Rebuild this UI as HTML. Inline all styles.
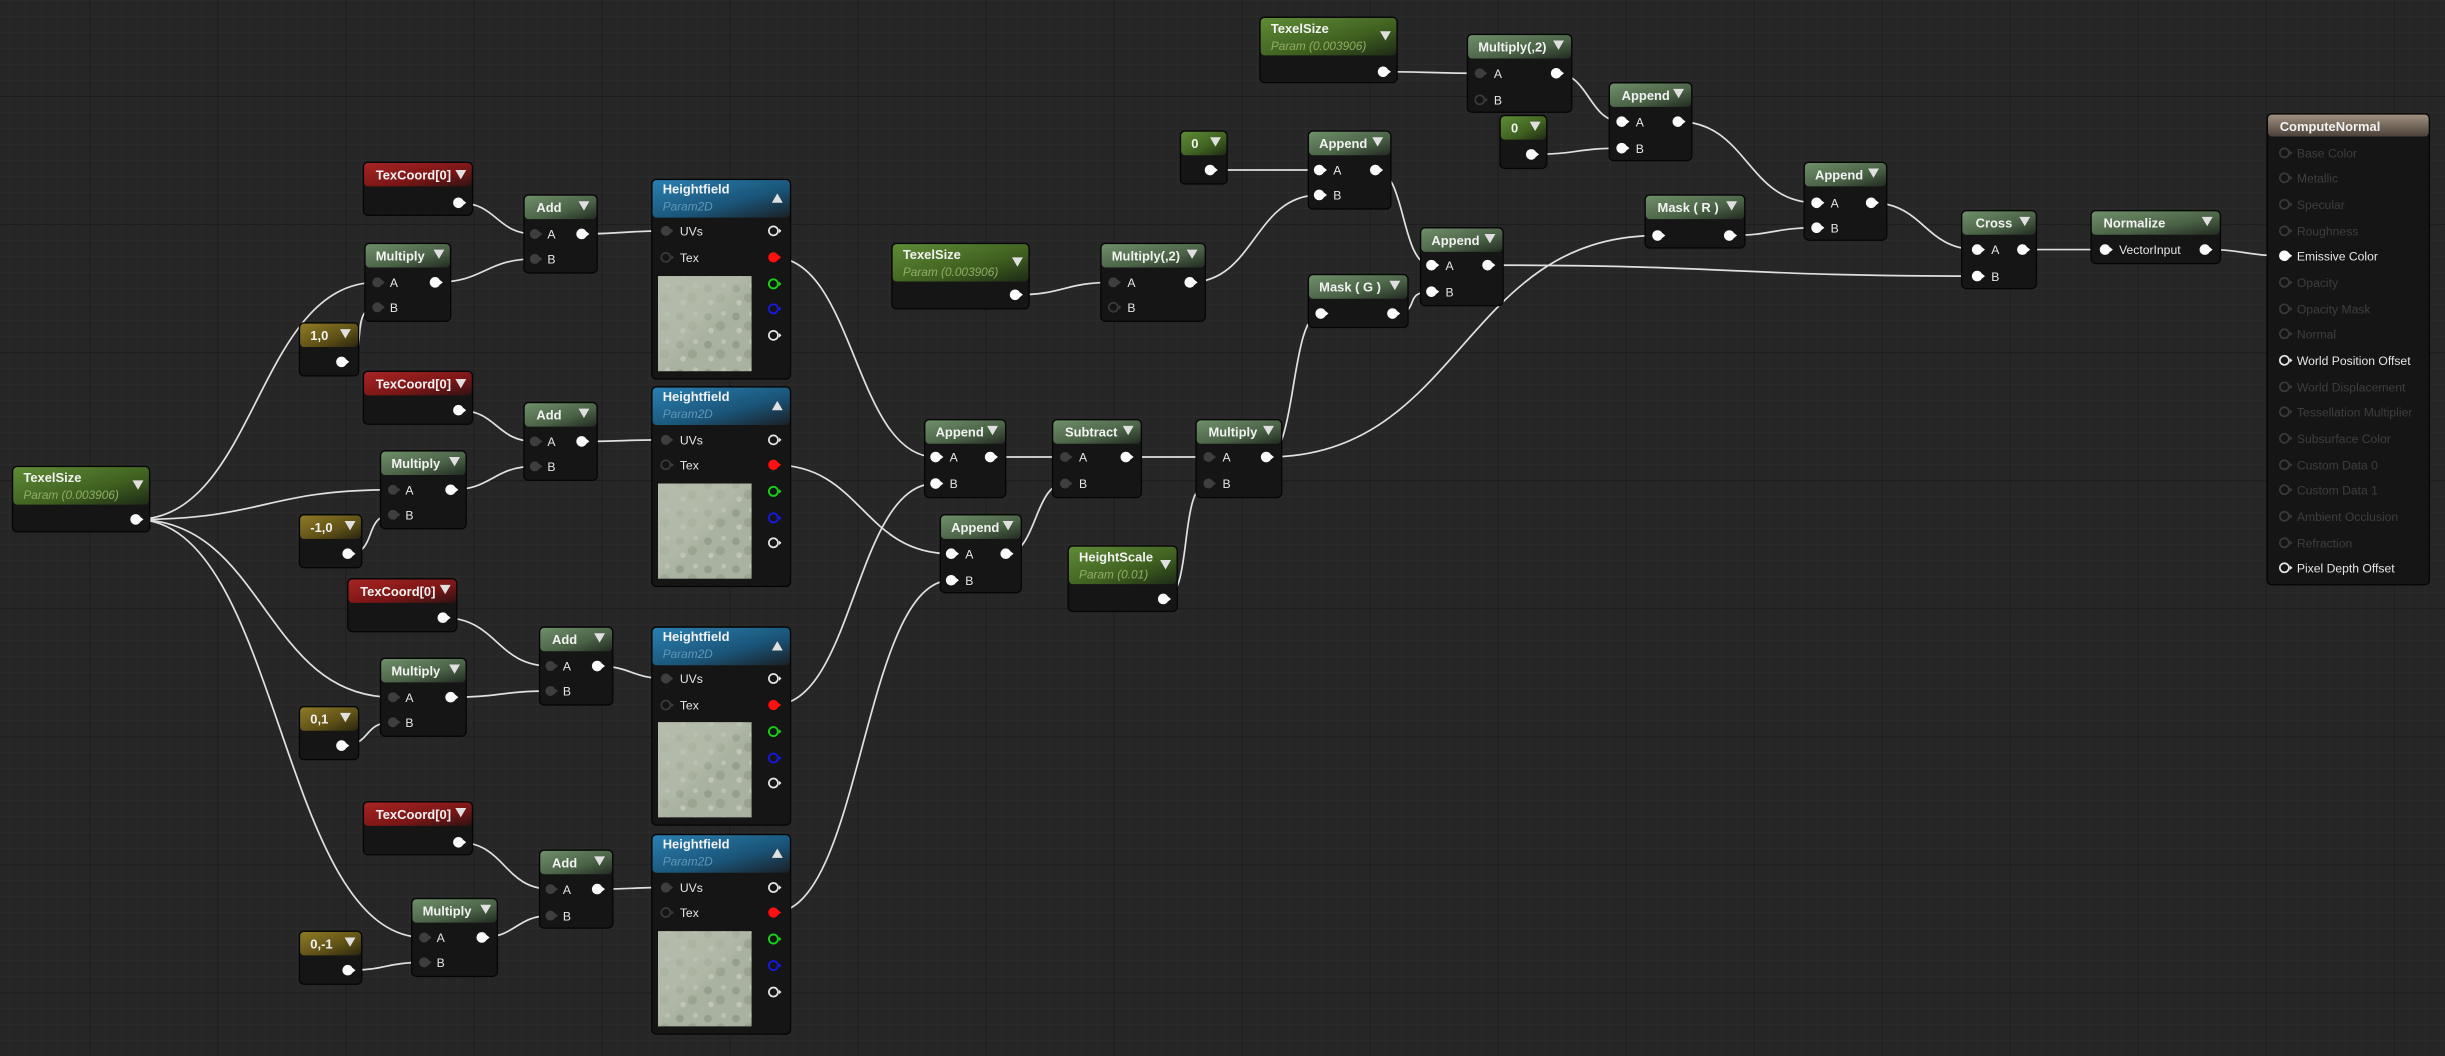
<!DOCTYPE html>
<html><head><meta charset="utf-8"><style>
html,body{margin:0;padding:0;background:#262626;overflow:hidden}
svg{display:block}
text{font-family:"Liberation Sans","DejaVu Sans",sans-serif}
.t{font-size:8.3px;font-weight:bold;fill:#f2f2f2}
.s{font-size:7.6px;font-style:italic}
.l{font-size:7.8px;fill:#e6e6e6}
.d{font-size:7.8px;fill:#3e3e3e}
.w{fill:none;stroke:#e0e0e0;stroke-width:1.1}
.b{fill:#141514;stroke:#050505;stroke-width:0.8}
</style></head><body>
<svg width="2445" height="1056" viewBox="0 0 1568 677" preserveAspectRatio="none" xmlns="http://www.w3.org/2000/svg">
<defs>
<pattern id="mi" width="10.26" height="10.26" patternUnits="userSpaceOnUse" x="57.3" y="61.6">
<path d="M0 0H10.26M0 0V10.26" stroke="#303030" stroke-width="0.5" fill="none"/></pattern>
<pattern id="ma" width="82.1" height="82.1" patternUnits="userSpaceOnUse" x="57.3" y="61.6">
<path d="M0 0H82.1M0 0V82.1" stroke="#171717" stroke-width="0.9" fill="none"/></pattern>
<linearGradient id="gP" x1="0" y1="0" x2="1" y2="1"><stop offset="0" stop-color="#5f8c36"/><stop offset="0.6" stop-color="#3f6020"/><stop offset="1" stop-color="#1e2a16"/></linearGradient>
<linearGradient id="gO" x1="0" y1="0" x2="1" y2="1"><stop offset="0" stop-color="#6f8f6a"/><stop offset="0.6" stop-color="#4a6246"/><stop offset="1" stop-color="#232b22"/></linearGradient>
<linearGradient id="gR" x1="0" y1="0" x2="1" y2="1"><stop offset="0" stop-color="#a82424"/><stop offset="0.6" stop-color="#7a1616"/><stop offset="1" stop-color="#301212"/></linearGradient>
<linearGradient id="gY" x1="0" y1="0" x2="1" y2="1"><stop offset="0" stop-color="#8f7b26"/><stop offset="0.6" stop-color="#5e5016"/><stop offset="1" stop-color="#2a2610"/></linearGradient>
<linearGradient id="gB" x1="0" y1="0" x2="1" y2="1"><stop offset="0" stop-color="#2a80b2"/><stop offset="0.6" stop-color="#1a5478"/><stop offset="1" stop-color="#1a2026"/></linearGradient>
<linearGradient id="gC" x1="0" y1="0" x2="0" y2="1"><stop offset="0" stop-color="#a09080"/><stop offset="1" stop-color="#4a4038"/></linearGradient>
<pattern id="tx" width="18" height="18" patternUnits="userSpaceOnUse">
<rect width="18" height="18" fill="#a9b1a0"/>
<circle cx="4" cy="5" r="2.5" fill="#959e8c"/><circle cx="12" cy="11" r="3" fill="#9aa390"/><circle cx="6" cy="14" r="1.8" fill="#c0c6b6"/><circle cx="14" cy="3" r="1.6" fill="#bcc3b2"/></pattern>
<linearGradient id="tg" x1="0" y1="0" x2="1" y2="1"><stop offset="0" stop-color="#b8bfae" stop-opacity="0.8"/><stop offset="0.45" stop-color="#b8bfae" stop-opacity="0.5"/><stop offset="0.55" stop-color="#b8bfae" stop-opacity="0"/></linearGradient>
<g id="pi"><circle r="3.2" fill="#3d3e3d"/><path d="M3 -1.5L4.8 0L3 1.5Z" fill="#3d3e3d"/></g>
<g id="po"><circle r="3.4" fill="#fafafa"/><path d="M3 -1.6L5 0L3 1.6Z" fill="#fafafa"/></g>
<g id="pe"><circle r="2.9" fill="none" stroke="#e6e6e6" stroke-width="1.1"/><path d="M3.5 -1.5L5.2 0L3.5 1.5Z" fill="#e6e6e6"/></g>
<g id="pd"><circle r="2.9" fill="none" stroke="#3a3a3a" stroke-width="1.1"/><path d="M3.5 -1.5L5.2 0L3.5 1.5Z" fill="#3a3a3a"/></g>
<g id="pr"><circle r="3.3" fill="#ff1010"/><path d="M3 -1.5L5 0L3 1.5Z" fill="#ff1010"/></g>
<g id="pg"><circle r="2.9" fill="none" stroke="#18d018" stroke-width="1.2"/><path d="M3.5 -1.5L5.2 0L3.5 1.5Z" fill="#18d018"/></g>
<g id="pb"><circle r="2.9" fill="none" stroke="#1818e0" stroke-width="1.2"/><path d="M3.5 -1.5L5.2 0L3.5 1.5Z" fill="#1818e0"/></g>
<path id="dn" d="M0 0H7L3.5 6Z" fill="#e0e0e0"/>
<path id="up" d="M0 6H7L3.5 0Z" fill="#e0e0e0"/>
</defs>
<rect width="1568" height="677" fill="#262626"/>
<rect width="1568" height="677" fill="url(#mi)"/>
<rect width="1568" height="677" fill="url(#ma)"/>

<!-- wires -->
<g class="w">
<path d="M87 333C165 333 164 181 242 181"/>
<path d="M87 333C170 333 169 314 252 314"/>
<path d="M87 333C170 333 169 447 252 447"/>
<path d="M87 333C180 333 179 601 272 601"/>
<path d="M219 232C239 232 222 197 242 197"/>
<path d="M223 355C243 355 232 330 252 330"/>
<path d="M219 478C239 478 232 463 252 463"/>
<path d="M223 622C248 622 247 617 272 617"/>
<path d="M294 130C319 130 318 150 343 150"/>
<path d="M279 181C311 181 311 166 343 166"/>
<path d="M294 263C319 263 318 283 343 283"/>
<path d="M289 314C316 314 316 299 343 299"/>
<path d="M284 396C319 396 318 427 353 427"/>
<path d="M289 447C321 447 321 443 353 443"/>
<path d="M294 540C324 540 323 570 353 570"/>
<path d="M309 601C331 601 331 587 353 587"/>
<path d="M373 150C400 150 400 148 427 148"/>
<path d="M373 283C400 283 400 282 427 282"/>
<path d="M383 427C405 427 405 435 427 435"/>
<path d="M383 570C405 570 405 569 427 569"/>
<path d="M496 165C548 165 548 293 600 293"/>
<path d="M496 298C553 298 553 355 610 355"/>
<path d="M496 452C548 452 548 310 600 310"/>
<path d="M496 585C553 585 553 372 610 372"/>
<path d="M635 293H683"/>
<path d="M645 355C665 355 663 310 683 310"/>
<path d="M722 293H775"/>
<path d="M746 384C766 384 755 310 775 310"/>
<path d="M812 293C832 293 827 201 847 201"/>
<path d="M812 293C938 293 937 151 1063 151"/>
<path d="M651 189C683 189 682 181 714 181"/>
<path d="M763 181C805 181 804 125 846 125"/>
<path d="M776 109H846"/>
<path d="M882 109C902 109 898 170 918 170"/>
<path d="M893 201C913 201 898 187 918 187"/>
<path d="M954 170C1111 170 1111 177 1268 177"/>
<path d="M887 46C918 46 918 47 949 47"/>
<path d="M998 47C1019 47 1019 78 1040 78"/>
<path d="M982 99C1011 99 1011 95 1040 95"/>
<path d="M1076 78C1121 78 1120 130 1165 130"/>
<path d="M1109 151C1137 151 1137 146 1165 146"/>
<path d="M1200 130C1234 130 1234 160 1268 160"/>
<path d="M1297 160H1350"/>
<path d="M1414 160C1440 160 1440 164 1465 164"/>
</g>

<!-- Left TexelSize -->
<g><rect class="b" x="8" y="299" width="88" height="42" rx="3"/><rect x="8.5" y="299.5" width="87" height="24" rx="2.5" fill="url(#gP)"/>
<text class="t" x="15" y="309">TexelSize</text><text class="s" x="15" y="320" fill="#8fae62">Param (0.003906)</text><use href="#dn" x="85" y="308"/><use href="#po" x="87" y="333"/></g>

<!-- Row 1 -->
<g><rect class="b" x="233" y="104" width="70" height="34" rx="3"/><rect x="233.5" y="104.5" width="69" height="15" rx="2.5" fill="url(#gR)"/>
<text class="t" x="241" y="115">TexCoord[0]</text><use href="#dn" x="292" y="109"/><use href="#po" x="294" y="130"/></g>
<g><rect class="b" x="234" y="156" width="55" height="50" rx="3"/><rect x="234.5" y="156.5" width="54" height="15" rx="2.5" fill="url(#gO)"/>
<text class="t" x="241" y="167">Multiply</text><use href="#dn" x="278" y="160"/><use href="#pi" x="242" y="181"/><text class="l" x="250" y="184">A</text><use href="#pi" x="242" y="197"/><text class="l" x="250" y="200">B</text><use href="#po" x="279" y="181"/></g>
<g><rect class="b" x="192" y="207" width="38" height="34" rx="3"/><rect x="192.5" y="207.5" width="37" height="15" rx="2.5" fill="url(#gY)"/>
<text class="t" x="199" y="218">1,0</text><use href="#dn" x="218" y="211"/><use href="#po" x="219" y="232"/></g>
<g><rect class="b" x="336" y="125" width="47" height="50" rx="3"/><rect x="336.5" y="125.5" width="46" height="15" rx="2.5" fill="url(#gO)"/>
<text class="t" x="344" y="136">Add</text><use href="#dn" x="371" y="129"/><use href="#pi" x="343" y="150"/><text class="l" x="351" y="153">A</text><use href="#pi" x="343" y="166"/><text class="l" x="351" y="169">B</text><use href="#po" x="373" y="150"/></g>

<!-- Row 2 -->
<g><rect class="b" x="233" y="238" width="70" height="34" rx="3"/><rect x="233.5" y="238.5" width="69" height="15" rx="2.5" fill="url(#gR)"/>
<text class="t" x="241" y="249">TexCoord[0]</text><use href="#dn" x="292" y="243"/><use href="#po" x="294" y="263"/></g>
<g><rect class="b" x="244" y="289" width="55" height="50" rx="3"/><rect x="244.5" y="289.5" width="54" height="15" rx="2.5" fill="url(#gO)"/>
<text class="t" x="251" y="300">Multiply</text><use href="#dn" x="288" y="293"/><use href="#pi" x="252" y="314"/><text class="l" x="260" y="317">A</text><use href="#pi" x="252" y="330"/><text class="l" x="260" y="333">B</text><use href="#po" x="289" y="314"/></g>
<g><rect class="b" x="192" y="330" width="40" height="34" rx="3"/><rect x="192.5" y="330.5" width="39" height="15" rx="2.5" fill="url(#gY)"/>
<text class="t" x="199" y="341">-1,0</text><use href="#dn" x="221" y="334"/><use href="#po" x="223" y="355"/></g>
<g><rect class="b" x="336" y="258" width="47" height="50" rx="3"/><rect x="336.5" y="258.5" width="46" height="15" rx="2.5" fill="url(#gO)"/>
<text class="t" x="344" y="269">Add</text><use href="#dn" x="371" y="262"/><use href="#pi" x="343" y="283"/><text class="l" x="351" y="286">A</text><use href="#pi" x="343" y="299"/><text class="l" x="351" y="302">B</text><use href="#po" x="373" y="283"/></g>

<!-- Row 3 -->
<g><rect class="b" x="223" y="371" width="70" height="34" rx="3"/><rect x="223.5" y="371.5" width="69" height="15" rx="2.5" fill="url(#gR)"/>
<text class="t" x="231" y="382">TexCoord[0]</text><use href="#dn" x="282" y="375"/><use href="#po" x="284" y="396"/></g>
<g><rect class="b" x="244" y="422" width="55" height="50" rx="3"/><rect x="244.5" y="422.5" width="54" height="15" rx="2.5" fill="url(#gO)"/>
<text class="t" x="251" y="433">Multiply</text><use href="#dn" x="288" y="426"/><use href="#pi" x="252" y="447"/><text class="l" x="260" y="450">A</text><use href="#pi" x="252" y="463"/><text class="l" x="260" y="466">B</text><use href="#po" x="289" y="447"/></g>
<g><rect class="b" x="192" y="453" width="38" height="34" rx="3"/><rect x="192.5" y="453.5" width="37" height="15" rx="2.5" fill="url(#gY)"/>
<text class="t" x="199" y="464">0,1</text><use href="#dn" x="218" y="457"/><use href="#po" x="219" y="478"/></g>
<g><rect class="b" x="346" y="402" width="47" height="50" rx="3"/><rect x="346.5" y="402.5" width="46" height="15" rx="2.5" fill="url(#gO)"/>
<text class="t" x="354" y="413">Add</text><use href="#dn" x="381" y="406"/><use href="#pi" x="353" y="427"/><text class="l" x="361" y="430">A</text><use href="#pi" x="353" y="443"/><text class="l" x="361" y="446">B</text><use href="#po" x="383" y="427"/></g>

<!-- Row 4 -->
<g><rect class="b" x="233" y="514" width="70" height="34" rx="3"/><rect x="233.5" y="514.5" width="69" height="15" rx="2.5" fill="url(#gR)"/>
<text class="t" x="241" y="525">TexCoord[0]</text><use href="#dn" x="292" y="518"/><use href="#po" x="294" y="540"/></g>
<g><rect class="b" x="264" y="576" width="55" height="50" rx="3"/><rect x="264.5" y="576.5" width="54" height="15" rx="2.5" fill="url(#gO)"/>
<text class="t" x="271" y="587">Multiply</text><use href="#dn" x="308" y="580"/><use href="#pi" x="272" y="601"/><text class="l" x="280" y="604">A</text><use href="#pi" x="272" y="617"/><text class="l" x="280" y="620">B</text><use href="#po" x="309" y="601"/></g>
<g><rect class="b" x="192" y="597" width="40" height="34" rx="3"/><rect x="192.5" y="597.5" width="39" height="15" rx="2.5" fill="url(#gY)"/>
<text class="t" x="199" y="608">0,-1</text><use href="#dn" x="221" y="601"/><use href="#po" x="223" y="622"/></g>
<g><rect class="b" x="346" y="545" width="47" height="50" rx="3"/><rect x="346.5" y="545.5" width="46" height="15" rx="2.5" fill="url(#gO)"/>
<text class="t" x="354" y="556">Add</text><use href="#dn" x="381" y="549"/><use href="#pi" x="353" y="570"/><text class="l" x="361" y="573">A</text><use href="#pi" x="353" y="587"/><text class="l" x="361" y="590">B</text><use href="#po" x="383" y="570"/></g>

<!-- Heightfields -->
<g><rect class="b" x="418" y="115" width="89" height="128" rx="3"/><rect x="418.5" y="115.5" width="88" height="24" rx="2.5" fill="url(#gB)"/>
<text class="t" x="425" y="124">Heightfield</text><text class="s" x="425" y="135" fill="#5f97b6">Param2D</text><use href="#up" x="495" y="124"/>
<use href="#pi" x="427" y="148"/><text class="l" x="436" y="151">UVs</text><use href="#pd" x="427" y="165"/><text class="l" x="436" y="168">Tex</text>
<use href="#pe" x="496" y="148"/><use href="#pr" x="496" y="165"/><use href="#pg" x="496" y="182"/><use href="#pb" x="496" y="198"/><use href="#pe" x="496" y="215"/>
<rect x="422" y="177" width="60" height="61" fill="url(#tx)"/><rect x="422" y="177" width="60" height="61" fill="url(#tg)"/></g>
<g><rect class="b" x="418" y="248" width="89" height="128" rx="3"/><rect x="418.5" y="248.5" width="88" height="24" rx="2.5" fill="url(#gB)"/>
<text class="t" x="425" y="257">Heightfield</text><text class="s" x="425" y="268" fill="#5f97b6">Param2D</text><use href="#up" x="495" y="257"/>
<use href="#pi" x="427" y="282"/><text class="l" x="436" y="285">UVs</text><use href="#pd" x="427" y="298"/><text class="l" x="436" y="301">Tex</text>
<use href="#pe" x="496" y="282"/><use href="#pr" x="496" y="298"/><use href="#pg" x="496" y="315"/><use href="#pb" x="496" y="332"/><use href="#pe" x="496" y="348"/>
<rect x="422" y="310" width="60" height="61" fill="url(#tx)"/><rect x="422" y="310" width="60" height="61" fill="url(#tg)"/></g>
<g><rect class="b" x="418" y="402" width="89" height="127" rx="3"/><rect x="418.5" y="402.5" width="88" height="24" rx="2.5" fill="url(#gB)"/>
<text class="t" x="425" y="411">Heightfield</text><text class="s" x="425" y="422" fill="#5f97b6">Param2D</text><use href="#up" x="495" y="411"/>
<use href="#pi" x="427" y="435"/><text class="l" x="436" y="438">UVs</text><use href="#pd" x="427" y="452"/><text class="l" x="436" y="455">Tex</text>
<use href="#pe" x="496" y="435"/><use href="#pr" x="496" y="452"/><use href="#pg" x="496" y="469"/><use href="#pb" x="496" y="486"/><use href="#pe" x="496" y="502"/>
<rect x="422" y="463" width="60" height="61" fill="url(#tx)"/><rect x="422" y="463" width="60" height="61" fill="url(#tg)"/></g>
<g><rect class="b" x="418" y="535" width="89" height="128" rx="3"/><rect x="418.5" y="535.5" width="88" height="24" rx="2.5" fill="url(#gB)"/>
<text class="t" x="425" y="544">Heightfield</text><text class="s" x="425" y="555" fill="#5f97b6">Param2D</text><use href="#up" x="495" y="544"/>
<use href="#pi" x="427" y="569"/><text class="l" x="436" y="572">UVs</text><use href="#pd" x="427" y="585"/><text class="l" x="436" y="588">Tex</text>
<use href="#pe" x="496" y="569"/><use href="#pr" x="496" y="585"/><use href="#pg" x="496" y="602"/><use href="#pb" x="496" y="619"/><use href="#pe" x="496" y="636"/>
<rect x="422" y="597" width="60" height="61" fill="url(#tx)"/><rect x="422" y="597" width="60" height="61" fill="url(#tg)"/></g>

<!-- Middle -->
<g><rect class="b" x="593" y="269" width="52" height="50" rx="3"/><rect x="593.5" y="269.5" width="51" height="15" rx="2.5" fill="url(#gO)"/>
<text class="t" x="600" y="280">Append</text><use href="#dn" x="633" y="273"/><use href="#po" x="600" y="293"/><text class="l" x="609" y="296">A</text><use href="#po" x="600" y="310"/><text class="l" x="609" y="313">B</text><use href="#po" x="635" y="293"/></g>
<g><rect class="b" x="603" y="330" width="52" height="50" rx="3"/><rect x="603.5" y="330.5" width="51" height="15" rx="2.5" fill="url(#gO)"/>
<text class="t" x="610" y="341">Append</text><use href="#dn" x="643" y="334"/><use href="#po" x="610" y="355"/><text class="l" x="619" y="358">A</text><use href="#po" x="610" y="372"/><text class="l" x="619" y="375">B</text><use href="#po" x="645" y="355"/></g>
<g><rect class="b" x="675" y="269" width="57" height="50" rx="3"/><rect x="675.5" y="269.5" width="56" height="15" rx="2.5" fill="url(#gO)"/>
<text class="t" x="683" y="280">Subtract</text><use href="#dn" x="720" y="273"/><use href="#pi" x="683" y="293"/><text class="l" x="692" y="296">A</text><use href="#pi" x="683" y="310"/><text class="l" x="692" y="313">B</text><use href="#po" x="722" y="293"/></g>
<g><rect class="b" x="685" y="350" width="70" height="42" rx="3"/><rect x="685.5" y="350.5" width="69" height="24" rx="2.5" fill="url(#gP)"/>
<text class="t" x="692" y="360">HeightScale</text><text class="s" x="692" y="371" fill="#8fae62">Param (0.01)</text><use href="#dn" x="744" y="359"/><use href="#po" x="746" y="384"/></g>
<g><rect class="b" x="767" y="269" width="55" height="50" rx="3"/><rect x="767.5" y="269.5" width="54" height="15" rx="2.5" fill="url(#gO)"/>
<text class="t" x="775" y="280">Multiply</text><use href="#dn" x="810" y="273"/><use href="#pi" x="775" y="293"/><text class="l" x="784" y="296">A</text><use href="#pi" x="775" y="310"/><text class="l" x="784" y="313">B</text><use href="#po" x="812" y="293"/></g>

<g><rect class="b" x="572" y="156" width="88" height="42" rx="3"/><rect x="572.5" y="156.5" width="87" height="24" rx="2.5" fill="url(#gP)"/>
<text class="t" x="579" y="166">TexelSize</text><text class="s" x="579" y="177" fill="#8fae62">Param (0.003906)</text><use href="#dn" x="649" y="165"/><use href="#po" x="651" y="189"/></g>
<g><rect class="b" x="706" y="156" width="67" height="50" rx="3"/><rect x="706.5" y="156.5" width="66" height="15" rx="2.5" fill="url(#gO)"/>
<text class="t" x="713" y="167">Multiply(,2)</text><use href="#dn" x="761" y="160"/><use href="#pi" x="714" y="181"/><text class="l" x="723" y="184">A</text><use href="#pd" x="714" y="197"/><text class="l" x="723" y="200">B</text><use href="#po" x="763" y="181"/></g>
<g><rect class="b" x="757" y="84" width="30" height="34" rx="3"/><rect x="757.5" y="84.5" width="29" height="15" rx="2.5" fill="url(#gP)"/>
<text class="t" x="764" y="95">0</text><use href="#dn" x="776" y="88"/><use href="#po" x="776" y="109"/></g>
<g><rect class="b" x="839" y="84" width="53" height="50" rx="3"/><rect x="839.5" y="84.5" width="52" height="15" rx="2.5" fill="url(#gO)"/>
<text class="t" x="846" y="95">Append</text><use href="#dn" x="880" y="88"/><use href="#po" x="846" y="109"/><text class="l" x="855" y="112">A</text><use href="#po" x="846" y="125"/><text class="l" x="855" y="128">B</text><use href="#po" x="882" y="109"/></g>
<g><rect class="b" x="839" y="176" width="64" height="34" rx="3"/><rect x="839.5" y="176.5" width="63" height="15" rx="2.5" fill="url(#gO)"/>
<text class="t" x="846" y="187">Mask ( G )</text><use href="#dn" x="891" y="180"/><use href="#po" x="847" y="201"/><use href="#po" x="893" y="201"/></g>
<g><rect class="b" x="911" y="146" width="53" height="50" rx="3"/><rect x="911.5" y="146.5" width="52" height="15" rx="2.5" fill="url(#gO)"/>
<text class="t" x="918" y="157">Append</text><use href="#dn" x="952" y="150"/><use href="#po" x="918" y="170"/><text class="l" x="927" y="173">A</text><use href="#po" x="918" y="187"/><text class="l" x="927" y="190">B</text><use href="#po" x="954" y="170"/></g>

<!-- Top -->
<g><rect class="b" x="808" y="11" width="88" height="42" rx="3"/><rect x="808.5" y="11.5" width="87" height="24" rx="2.5" fill="url(#gP)"/>
<text class="t" x="815" y="21">TexelSize</text><text class="s" x="815" y="32" fill="#8fae62">Param (0.003906)</text><use href="#dn" x="885" y="20"/><use href="#po" x="887" y="46"/></g>
<g><rect class="b" x="941" y="22" width="67" height="50" rx="3"/><rect x="941.5" y="22.5" width="66" height="15" rx="2.5" fill="url(#gO)"/>
<text class="t" x="948" y="33">Multiply(,2)</text><use href="#dn" x="996" y="26"/><use href="#pi" x="949" y="47"/><text class="l" x="958" y="50">A</text><use href="#pd" x="949" y="64"/><text class="l" x="958" y="67">B</text><use href="#po" x="998" y="47"/></g>
<g><rect class="b" x="962" y="74" width="30" height="34" rx="3"/><rect x="962.5" y="74.5" width="29" height="15" rx="2.5" fill="url(#gP)"/>
<text class="t" x="969" y="85">0</text><use href="#dn" x="981" y="78"/><use href="#po" x="982" y="99"/></g>
<g><rect class="b" x="1032" y="53" width="53" height="50" rx="3"/><rect x="1032.5" y="53.5" width="52" height="15" rx="2.5" fill="url(#gO)"/>
<text class="t" x="1040" y="64">Append</text><use href="#dn" x="1073" y="57"/><use href="#po" x="1040" y="78"/><text class="l" x="1049" y="81">A</text><use href="#po" x="1040" y="95"/><text class="l" x="1049" y="98">B</text><use href="#po" x="1076" y="78"/></g>
<g><rect class="b" x="1055" y="125" width="64" height="34" rx="3"/><rect x="1055.5" y="125.5" width="63" height="15" rx="2.5" fill="url(#gO)"/>
<text class="t" x="1063" y="136">Mask ( R )</text><use href="#dn" x="1107" y="129"/><use href="#po" x="1063" y="151"/><use href="#po" x="1109" y="151"/></g>
<g><rect class="b" x="1157" y="104" width="53" height="50" rx="3"/><rect x="1157.5" y="104.5" width="52" height="15" rx="2.5" fill="url(#gO)"/>
<text class="t" x="1164" y="115">Append</text><use href="#dn" x="1198" y="108"/><use href="#po" x="1165" y="130"/><text class="l" x="1174" y="133">A</text><use href="#po" x="1165" y="146"/><text class="l" x="1174" y="149">B</text><use href="#po" x="1200" y="130"/></g>
<g><rect class="b" x="1258" y="135" width="48" height="50" rx="3"/><rect x="1258.5" y="135.5" width="47" height="15" rx="2.5" fill="url(#gO)"/>
<text class="t" x="1267" y="146">Cross</text><use href="#dn" x="1295" y="139"/><use href="#po" x="1268" y="160"/><text class="l" x="1277" y="163">A</text><use href="#po" x="1268" y="177"/><text class="l" x="1277" y="180">B</text><use href="#po" x="1297" y="160"/></g>
<g><rect class="b" x="1341" y="135" width="83" height="34" rx="3"/><rect x="1341.5" y="135.5" width="82" height="15" rx="2.5" fill="url(#gO)"/>
<text class="t" x="1349" y="146">Normalize</text><use href="#dn" x="1412" y="139"/><use href="#po" x="1350" y="160"/><text class="l" x="1359" y="163">VectorInput</text><use href="#po" x="1414" y="160"/></g>

<!-- ComputeNormal -->
<g><rect class="b" x="1454" y="73" width="104" height="302" rx="3"/><rect x="1454.5" y="73.5" width="103" height="14" rx="2.5" fill="url(#gC)"/>
<text class="t" x="1462" y="84">ComputeNormal</text>
<use href="#pd" x="1465" y="98"/><text class="d" x="1473" y="101">Base Color</text>
<use href="#pd" x="1465" y="114"/><text class="d" x="1473" y="117">Metallic</text>
<use href="#pd" x="1465" y="131"/><text class="d" x="1473" y="134">Specular</text>
<use href="#pd" x="1465" y="148"/><text class="d" x="1473" y="151">Roughness</text>
<use href="#po" x="1465" y="164"/><text class="l" x="1473" y="167">Emissive Color</text>
<use href="#pd" x="1465" y="181"/><text class="d" x="1473" y="184">Opacity</text>
<use href="#pd" x="1465" y="198"/><text class="d" x="1473" y="201">Opacity Mask</text>
<use href="#pd" x="1465" y="214"/><text class="d" x="1473" y="217">Normal</text>
<use href="#pe" x="1465" y="231"/><text class="l" x="1473" y="234">World Position Offset</text>
<use href="#pd" x="1465" y="248"/><text class="d" x="1473" y="251">World Displacement</text>
<use href="#pd" x="1465" y="264"/><text class="d" x="1473" y="267">Tessellation Multiplier</text>
<use href="#pd" x="1465" y="281"/><text class="d" x="1473" y="284">Subsurface Color</text>
<use href="#pd" x="1465" y="298"/><text class="d" x="1473" y="301">Custom Data 0</text>
<use href="#pd" x="1465" y="314"/><text class="d" x="1473" y="317">Custom Data 1</text>
<use href="#pd" x="1465" y="331"/><text class="d" x="1473" y="334">Ambient Occlusion</text>
<use href="#pd" x="1465" y="348"/><text class="d" x="1473" y="351">Refraction</text>
<use href="#pe" x="1465" y="364"/><text class="l" x="1473" y="367">Pixel Depth Offset</text>
</g>
</svg>
</body></html>
